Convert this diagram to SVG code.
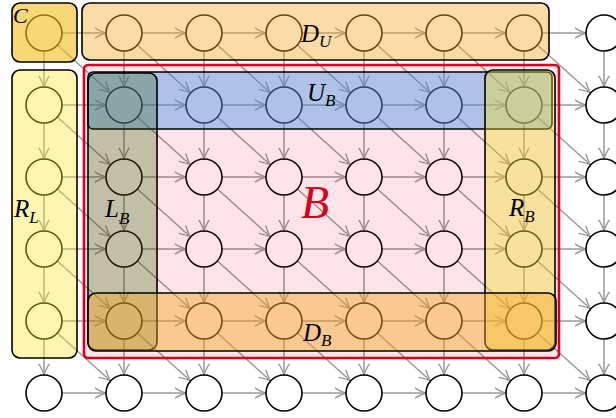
<svg xmlns="http://www.w3.org/2000/svg" width="616" height="418" viewBox="0 0 616 418">
<style>
.e{stroke:#9a9a9a;stroke-width:1.5;fill:none;marker-end:url(#ah)}
.n circle{fill:#fff;stroke:#000;stroke-width:1.6}
.box{stroke:#000;stroke-width:1.6}
.lab{font-family:"Liberation Serif","DejaVu Serif",serif;font-style:italic;fill:#000}
</style>
<defs>
<marker id="ah" markerUnits="userSpaceOnUse" markerWidth="14" markerHeight="14" refX="0" refY="0" viewBox="-13 -7 15 14" orient="auto" overflow="visible">
<path d="M-12,-5.5 Q-4,-1 0,0 Q-4,1 -12,5.5" fill="none" stroke="#9a9a9a" stroke-width="1.5"/>
</marker>
</defs>
<rect width="616" height="418" fill="#fff"/>
<g id="connectors">
<line class="e" x1="62" y1="33" x2="106" y2="33"/><line class="e" x1="142" y1="33" x2="186" y2="33"/><line class="e" x1="222" y1="33" x2="266" y2="33"/><line class="e" x1="302" y1="33" x2="346" y2="33"/><line class="e" x1="382" y1="33" x2="426" y2="33"/><line class="e" x1="462" y1="33" x2="506" y2="33"/><line class="e" x1="542" y1="33" x2="586" y2="33"/>
<line class="e" x1="62" y1="105" x2="106" y2="105"/><line class="e" x1="142" y1="105" x2="186" y2="105"/><line class="e" x1="222" y1="105" x2="266" y2="105"/><line class="e" x1="302" y1="105" x2="346" y2="105"/><line class="e" x1="382" y1="105" x2="426" y2="105"/><line class="e" x1="462" y1="105" x2="506" y2="105"/><line class="e" x1="542" y1="105" x2="586" y2="105"/>
<line class="e" x1="62" y1="177" x2="106" y2="177"/><line class="e" x1="142" y1="177" x2="186" y2="177"/><line class="e" x1="222" y1="177" x2="266" y2="177"/><line class="e" x1="302" y1="177" x2="346" y2="177"/><line class="e" x1="382" y1="177" x2="426" y2="177"/><line class="e" x1="462" y1="177" x2="506" y2="177"/><line class="e" x1="542" y1="177" x2="586" y2="177"/>
<line class="e" x1="62" y1="249" x2="106" y2="249"/><line class="e" x1="142" y1="249" x2="186" y2="249"/><line class="e" x1="222" y1="249" x2="266" y2="249"/><line class="e" x1="302" y1="249" x2="346" y2="249"/><line class="e" x1="382" y1="249" x2="426" y2="249"/><line class="e" x1="462" y1="249" x2="506" y2="249"/><line class="e" x1="542" y1="249" x2="586" y2="249"/>
<line class="e" x1="62" y1="321" x2="106" y2="321"/><line class="e" x1="142" y1="321" x2="186" y2="321"/><line class="e" x1="222" y1="321" x2="266" y2="321"/><line class="e" x1="302" y1="321" x2="346" y2="321"/><line class="e" x1="382" y1="321" x2="426" y2="321"/><line class="e" x1="462" y1="321" x2="506" y2="321"/><line class="e" x1="542" y1="321" x2="586" y2="321"/>
<line class="e" x1="62" y1="393" x2="106" y2="393"/><line class="e" x1="142" y1="393" x2="186" y2="393"/><line class="e" x1="222" y1="393" x2="266" y2="393"/><line class="e" x1="302" y1="393" x2="346" y2="393"/><line class="e" x1="382" y1="393" x2="426" y2="393"/><line class="e" x1="462" y1="393" x2="506" y2="393"/><line class="e" x1="542" y1="393" x2="586" y2="393"/>
<line class="e" x1="44" y1="51" x2="44" y2="87"/><line class="e" x1="44" y1="123" x2="44" y2="159"/><line class="e" x1="44" y1="195" x2="44" y2="231"/><line class="e" x1="44" y1="267" x2="44" y2="303"/><line class="e" x1="44" y1="339" x2="44" y2="375"/>
<line class="e" x1="124" y1="51" x2="124" y2="87"/><line class="e" x1="124" y1="123" x2="124" y2="159"/><line class="e" x1="124" y1="195" x2="124" y2="231"/><line class="e" x1="124" y1="267" x2="124" y2="303"/><line class="e" x1="124" y1="339" x2="124" y2="375"/>
<line class="e" x1="204" y1="51" x2="204" y2="87"/><line class="e" x1="204" y1="123" x2="204" y2="159"/><line class="e" x1="204" y1="195" x2="204" y2="231"/><line class="e" x1="204" y1="267" x2="204" y2="303"/><line class="e" x1="204" y1="339" x2="204" y2="375"/>
<line class="e" x1="284" y1="51" x2="284" y2="87"/><line class="e" x1="284" y1="123" x2="284" y2="159"/><line class="e" x1="284" y1="195" x2="284" y2="231"/><line class="e" x1="284" y1="267" x2="284" y2="303"/><line class="e" x1="284" y1="339" x2="284" y2="375"/>
<line class="e" x1="364" y1="51" x2="364" y2="87"/><line class="e" x1="364" y1="123" x2="364" y2="159"/><line class="e" x1="364" y1="195" x2="364" y2="231"/><line class="e" x1="364" y1="267" x2="364" y2="303"/><line class="e" x1="364" y1="339" x2="364" y2="375"/>
<line class="e" x1="444" y1="51" x2="444" y2="87"/><line class="e" x1="444" y1="123" x2="444" y2="159"/><line class="e" x1="444" y1="195" x2="444" y2="231"/><line class="e" x1="444" y1="267" x2="444" y2="303"/><line class="e" x1="444" y1="339" x2="444" y2="375"/>
<line class="e" x1="524" y1="51" x2="524" y2="87"/><line class="e" x1="524" y1="123" x2="524" y2="159"/><line class="e" x1="524" y1="195" x2="524" y2="231"/><line class="e" x1="524" y1="267" x2="524" y2="303"/><line class="e" x1="524" y1="339" x2="524" y2="375"/>
<line class="e" x1="604" y1="51" x2="604" y2="87"/><line class="e" x1="604" y1="123" x2="604" y2="159"/><line class="e" x1="604" y1="195" x2="604" y2="231"/><line class="e" x1="604" y1="267" x2="604" y2="303"/><line class="e" x1="604" y1="339" x2="604" y2="375"/>
<line class="e" x1="57.4" y1="45" x2="110.6" y2="93"/><line class="e" x1="137.4" y1="45" x2="190.6" y2="93"/><line class="e" x1="217.4" y1="45" x2="270.6" y2="93"/><line class="e" x1="297.4" y1="45" x2="350.6" y2="93"/><line class="e" x1="377.4" y1="45" x2="430.6" y2="93"/><line class="e" x1="457.4" y1="45" x2="510.6" y2="93"/><line class="e" x1="537.4" y1="45" x2="590.6" y2="93"/>
<line class="e" x1="57.4" y1="117" x2="110.6" y2="165"/><line class="e" x1="137.4" y1="117" x2="190.6" y2="165"/><line class="e" x1="217.4" y1="117" x2="270.6" y2="165"/><line class="e" x1="297.4" y1="117" x2="350.6" y2="165"/><line class="e" x1="377.4" y1="117" x2="430.6" y2="165"/><line class="e" x1="457.4" y1="117" x2="510.6" y2="165"/><line class="e" x1="537.4" y1="117" x2="590.6" y2="165"/>
<line class="e" x1="57.4" y1="189" x2="110.6" y2="237"/><line class="e" x1="137.4" y1="189" x2="190.6" y2="237"/><line class="e" x1="217.4" y1="189" x2="270.6" y2="237"/><line class="e" x1="297.4" y1="189" x2="350.6" y2="237"/><line class="e" x1="377.4" y1="189" x2="430.6" y2="237"/><line class="e" x1="457.4" y1="189" x2="510.6" y2="237"/><line class="e" x1="537.4" y1="189" x2="590.6" y2="237"/>
<line class="e" x1="57.4" y1="261" x2="110.6" y2="309"/><line class="e" x1="137.4" y1="261" x2="190.6" y2="309"/><line class="e" x1="217.4" y1="261" x2="270.6" y2="309"/><line class="e" x1="297.4" y1="261" x2="350.6" y2="309"/><line class="e" x1="377.4" y1="261" x2="430.6" y2="309"/><line class="e" x1="457.4" y1="261" x2="510.6" y2="309"/><line class="e" x1="537.4" y1="261" x2="590.6" y2="309"/>
<line class="e" x1="57.4" y1="333" x2="110.6" y2="381"/><line class="e" x1="137.4" y1="333" x2="190.6" y2="381"/><line class="e" x1="217.4" y1="333" x2="270.6" y2="381"/><line class="e" x1="297.4" y1="333" x2="350.6" y2="381"/><line class="e" x1="377.4" y1="333" x2="430.6" y2="381"/><line class="e" x1="457.4" y1="333" x2="510.6" y2="381"/><line class="e" x1="537.4" y1="333" x2="590.6" y2="381"/>
</g>
<g id="nodes">
<g id="n00" class="n"><circle cx="44" cy="33" r="18"/></g><g id="n10" class="n"><circle cx="124" cy="33" r="18"/></g><g id="n20" class="n"><circle cx="204" cy="33" r="18"/></g><g id="n30" class="n"><circle cx="284" cy="33" r="18"/></g><g id="n40" class="n"><circle cx="364" cy="33" r="18"/></g><g id="n50" class="n"><circle cx="444" cy="33" r="18"/></g><g id="n60" class="n"><circle cx="524" cy="33" r="18"/></g><g id="n70" class="n"><circle cx="604" cy="33" r="18"/></g>
<g id="n01" class="n"><circle cx="44" cy="105" r="18"/></g><g id="n11" class="n"><circle cx="124" cy="105" r="18"/></g><g id="n21" class="n"><circle cx="204" cy="105" r="18"/></g><g id="n31" class="n"><circle cx="284" cy="105" r="18"/></g><g id="n41" class="n"><circle cx="364" cy="105" r="18"/></g><g id="n51" class="n"><circle cx="444" cy="105" r="18"/></g><g id="n61" class="n"><circle cx="524" cy="105" r="18"/></g><g id="n71" class="n"><circle cx="604" cy="105" r="18"/></g>
<g id="n02" class="n"><circle cx="44" cy="177" r="18"/></g><g id="n12" class="n"><circle cx="124" cy="177" r="18"/></g><g id="n22" class="n"><circle cx="204" cy="177" r="18"/></g><g id="n32" class="n"><circle cx="284" cy="177" r="18"/></g><g id="n42" class="n"><circle cx="364" cy="177" r="18"/></g><g id="n52" class="n"><circle cx="444" cy="177" r="18"/></g><g id="n62" class="n"><circle cx="524" cy="177" r="18"/></g><g id="n72" class="n"><circle cx="604" cy="177" r="18"/></g>
<g id="n03" class="n"><circle cx="44" cy="249" r="18"/></g><g id="n13" class="n"><circle cx="124" cy="249" r="18"/></g><g id="n23" class="n"><circle cx="204" cy="249" r="18"/></g><g id="n33" class="n"><circle cx="284" cy="249" r="18"/></g><g id="n43" class="n"><circle cx="364" cy="249" r="18"/></g><g id="n53" class="n"><circle cx="444" cy="249" r="18"/></g><g id="n63" class="n"><circle cx="524" cy="249" r="18"/></g><g id="n73" class="n"><circle cx="604" cy="249" r="18"/></g>
<g id="n04" class="n"><circle cx="44" cy="321" r="18"/></g><g id="n14" class="n"><circle cx="124" cy="321" r="18"/></g><g id="n24" class="n"><circle cx="204" cy="321" r="18"/></g><g id="n34" class="n"><circle cx="284" cy="321" r="18"/></g><g id="n44" class="n"><circle cx="364" cy="321" r="18"/></g><g id="n54" class="n"><circle cx="444" cy="321" r="18"/></g><g id="n64" class="n"><circle cx="524" cy="321" r="18"/></g><g id="n74" class="n"><circle cx="604" cy="321" r="18"/></g>
<g id="n05" class="n"><circle cx="44" cy="393" r="18"/></g><g id="n15" class="n"><circle cx="124" cy="393" r="18"/></g><g id="n25" class="n"><circle cx="204" cy="393" r="18"/></g><g id="n35" class="n"><circle cx="284" cy="393" r="18"/></g><g id="n45" class="n"><circle cx="364" cy="393" r="18"/></g><g id="n55" class="n"><circle cx="444" cy="393" r="18"/></g><g id="n65" class="n"><circle cx="524" cy="393" r="18"/></g><g id="n75" class="n"><circle cx="604" cy="393" r="18"/></g>
</g>
<g id="regions">
<g id="region-B"><rect x="84" y="65" width="475" height="293" rx="4" fill="rgb(217,0,27)" fill-opacity="0.1" stroke="rgb(215,0,30)" stroke-width="2.6"/></g>
<g id="region-C"><rect class="box" x="12" y="3" width="65" height="59" rx="8" fill="rgb(240,190,30)" fill-opacity="0.6"/></g>
<g id="region-DU"><rect class="box" x="82" y="3" width="467" height="57" rx="8" fill="rgb(245,166,35)" fill-opacity="0.4"/></g>
<g id="region-RL"><rect class="box" x="12" y="70" width="65" height="288" rx="8" fill="rgb(250,230,50)" fill-opacity="0.38"/></g>
<g id="region-UB"><rect class="box" x="88" y="72" width="464" height="57" rx="5" fill="rgb(75,145,228)" fill-opacity="0.43"/></g>
<g id="region-LB"><rect class="box" x="88" y="73" width="69" height="277" rx="8" fill="rgb(40,90,0)" fill-opacity="0.27"/></g>
<g id="region-RB"><rect class="box" x="485" y="70" width="70" height="280" rx="8" fill="rgb(243,222,45)" fill-opacity="0.4"/></g>
<g id="region-DB"><rect class="box" x="88" y="293" width="468" height="58" rx="8" fill="rgb(245,166,35)" fill-opacity="0.44"/></g>
</g>
<g id="labels">
<text class="lab" x="13" y="23" font-size="22">C</text>
<text class="lab" x="301" y="42" font-size="25">D<tspan font-size="17" dy="5">U</tspan></text>
<text class="lab" x="307" y="101" font-size="25">U<tspan font-size="17" dy="5">B</tspan></text>
<text class="lab" x="301" y="218" font-size="46" style="fill:rgb(215,0,30)">B</text>
<text class="lab" x="14" y="217" font-size="25">R<tspan font-size="17" dy="6">L</tspan></text>
<text class="lab" x="105" y="217" font-size="25">L<tspan font-size="17" dy="7">B</tspan></text>
<text class="lab" x="509" y="216" font-size="25">R<tspan font-size="17" dy="6">B</tspan></text>
<text class="lab" x="303" y="341" font-size="25">D<tspan font-size="17" dy="5">B</tspan></text>
</g>
</svg>
